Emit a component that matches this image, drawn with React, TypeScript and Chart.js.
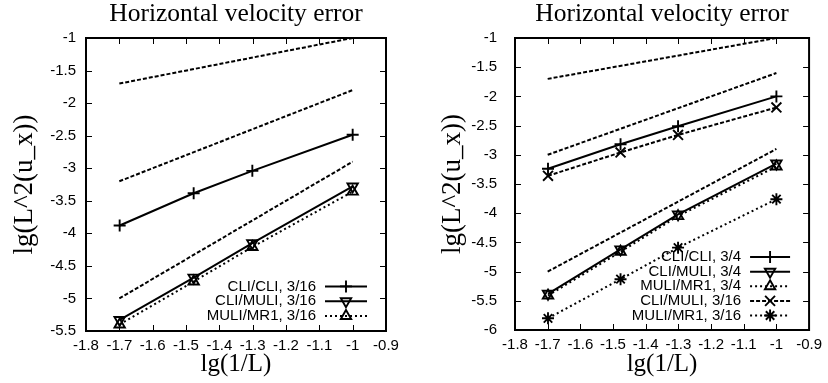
import React, { useEffect, useRef } from "react";
import { Chart, registerables } from "chart.js";
import { drawPoint } from "chart.js/helpers";

Chart.register(...registerables);

// ---------- text ----------
const TITLE = "Horizontal velocity error";
const X_TITLE = "lg(1/L)";
const Y_TITLE = "lg(L^2(u_x))";

// ---------- data ----------
const xData = [-1.699, -1.477, -1.301, -1.0];
const refX = [-1.7, -1.0];

// left panel
const leftRef1 = [-1.7, -1.0];
const leftRef2 = [-3.2, -1.8];
const leftRef3 = [-5.0, -2.9];
const leftCliCli316 = [-3.88, -3.385, -3.04, -2.485];
const leftCliMuli316 = [-5.33, -4.68, -4.15, -3.28];
const leftMuliMr1316 = [-5.4, -4.74, -4.21, -3.36];

// right panel
const rightRef1 = [-1.7, -1.0];
const rightRef2 = [-3.0, -1.6];
const rightRef3 = [-5.0, -2.9];
const rightCliCli34 = [-3.24, -2.82, -2.51, -2.0];
const rightCliMuli34 = [-5.38, -4.62, -4.02, -3.15];
const rightMuliMr134 = [-5.41, -4.66, -4.05, -3.2];
const rightCliMuli316 = [-3.36, -2.96, -2.66, -2.19];
const rightMuliMr1316 = [-5.8, -5.13, -4.59, -3.76];

// ticks
const xTicks = [-1.8, -1.7, -1.6, -1.5, -1.4, -1.3, -1.2, -1.1, -1.0, -0.9];
const leftYTicks = [-5.5, -5, -4.5, -4, -3.5, -3, -2.5, -2, -1.5, -1];
const rightYTicks = [-6, -5.5, -5, -4.5, -4, -3.5, -3, -2.5, -2, -1.5, -1];

// ---------- styling helpers ----------
const SERIF = '"Liberation Serif", "Times New Roman", serif';
const SANS = '"Liberation Sans", Arial, sans-serif';
const DASHED = [4, 2];
const DOTTED = [2, 3];
const SOLID: number[] = [];

function pts(xs: number[], ys: number[]) {
  return xs.map((x, i) => ({ x, y: ys[i] }));
}

function series(
  label: string,
  xs: number[],
  ys: number[],
  dash: number[],
  marker: any,
  radius = 6,
  rotation = 0
) {
  return {
    label,
    data: pts(xs, ys),
    showLine: true,
    borderColor: "#000",
    backgroundColor: "rgba(0,0,0,0)",
    borderWidth: 2,
    borderDash: dash,
    pointStyle: marker || "circle",
    pointRadius: marker ? radius : 0,
    pointHoverRadius: marker ? radius : 0,
    pointRotation: rotation,
    pointBorderColor: "#000",
    pointBackgroundColor: "rgba(0,0,0,0)",
    pointBorderWidth: 1.9,
    fill: false,
    tension: 0,
  };
}

function fmt(v: number) {
  return String(Number(v.toFixed(2)));
}

// ---------- plugins ----------
const framePlugin = {
  id: "gpFrame",
  beforeDatasetsDraw(chart: any) {
    const { ctx, chartArea: a, scales } = chart;
    ctx.save();
    ctx.strokeStyle = "#000";
    ctx.lineWidth = 1;
    const L = 6;
    ctx.beginPath();
    scales.x.ticks.forEach((t: any) => {
      const px = Math.round(scales.x.getPixelForValue(t.value)) + 0.5;
      ctx.moveTo(px, a.bottom);
      ctx.lineTo(px, a.bottom - L);
      ctx.moveTo(px, a.top);
      ctx.lineTo(px, a.top + L);
    });
    scales.y.ticks.forEach((t: any) => {
      const py = Math.round(scales.y.getPixelForValue(t.value)) + 0.5;
      ctx.moveTo(a.left, py);
      ctx.lineTo(a.left + L, py);
      ctx.moveTo(a.right, py);
      ctx.lineTo(a.right - L, py);
    });
    ctx.stroke();
    ctx.lineWidth = 2;
    ctx.strokeRect(a.left, a.top, a.right - a.left, a.bottom - a.top);
    ctx.restore();
  },
};

const titlePlugin = {
  id: "gpTitle",
  afterDraw(chart: any, _args: any, opts: any) {
    const { ctx, chartArea: a } = chart;
    ctx.save();
    ctx.font = `${opts.size}px ${SERIF}`;
    ctx.fillStyle = "#000";
    ctx.textAlign = "center";
    ctx.textBaseline = "alphabetic";
    ctx.fillText(opts.text, (a.left + a.right) / 2, opts.baseline);
    ctx.restore();
  },
};

const legendPlugin = {
  id: "gpLegend",
  afterDatasetsDraw(chart: any, _args: any, opts: any) {
    const { ctx, chartArea: a } = chart;
    const items = chart.data.datasets.filter((d: any) => d.label);
    const n = items.length;
    ctx.save();
    ctx.font = `${opts.fontSize}px ${SANS}`;
    ctx.textAlign = "right";
    ctx.textBaseline = "middle";
    items.forEach((d: any, i: number) => {
      const y = a.bottom - opts.bottomOffset - (n - 1 - i) * opts.rowStep;
      ctx.fillStyle = "#000";
      ctx.fillText(d.label, a.right - opts.textRight, y);
      const x1 = a.right - opts.sampleLeft;
      const x2 = a.right - opts.sampleRight;
      ctx.beginPath();
      ctx.setLineDash(d.borderDash || []);
      ctx.lineWidth = 2;
      ctx.strokeStyle = "#000";
      ctx.moveTo(x1, y);
      ctx.lineTo(x2, y);
      ctx.stroke();
      ctx.setLineDash([]);
      ctx.lineWidth = d.pointBorderWidth;
      ctx.fillStyle = "rgba(0,0,0,0)";
      drawPoint(
        ctx,
        {
          pointStyle: d.pointStyle,
          rotation: d.pointRotation,
          radius: d.pointRadius,
          borderWidth: d.pointBorderWidth,
        } as any,
        (x1 + x2) / 2,
        y
      );
    });
    ctx.restore();
  },
};

// ---------- panel ----------
type PanelProps = {
  datasets: any[];
  yTicks: number[];
  yAxisWidth: number;
  yTickPad: number;
  yTitlePad: number;
  xAxisHeight: number;
  rightPad: number;
  legend: any;
};

function Panel(p: PanelProps) {
  const ref = useRef<HTMLCanvasElement | null>(null);
  useEffect(() => {
    if (!ref.current) return;
    const chart = new Chart(ref.current, {
      type: "scatter",
      data: { datasets: p.datasets },
      options: {
        responsive: false,
        animation: false,
        events: [],
        layout: { padding: { top: 38, left: 0, right: p.rightPad, bottom: 0 } },
        scales: {
          x: {
            type: "linear",
            min: xTicks[0],
            max: xTicks[xTicks.length - 1],
            grid: { display: false, drawTicks: false },
            border: { display: false },
            afterBuildTicks: (s: any) => {
              s.ticks = xTicks.map((v) => ({ value: v }));
            },
            afterFit: (s: any) => {
              s.height = p.xAxisHeight;
            },
            ticks: {
              padding: 6,
              color: "#000",
              font: { family: SANS, size: 15 },
              callback: (v: any) => fmt(Number(v)),
            },
            title: {
              display: true,
              text: X_TITLE,
              color: "#000",
              font: { family: SERIF, size: 25 },
              padding: 4,
            },
          },
          y: {
            type: "linear",
            min: p.yTicks[0],
            max: p.yTicks[p.yTicks.length - 1],
            grid: { display: false, drawTicks: false },
            border: { display: false },
            afterBuildTicks: (s: any) => {
              s.ticks = p.yTicks.map((v) => ({ value: v }));
            },
            afterFit: (s: any) => {
              s.width = p.yAxisWidth;
            },
            ticks: {
              padding: p.yTickPad,
              color: "#000",
              font: { family: SANS, size: 15 },
              callback: (v: any) => fmt(Number(v)),
            },
            title: {
              display: true,
              text: Y_TITLE,
              color: "#000",
              font: { family: SERIF, size: 27 },
              padding: p.yTitlePad,
            },
          },
        },
        plugins: {
          legend: { display: false },
          tooltip: { enabled: false },
          gpTitle: { text: TITLE, size: 25.5, baseline: 21 },
          gpLegend: p.legend,
        } as any,
      },
      plugins: [framePlugin, titlePlugin, legendPlugin],
    } as any);
    return () => chart.destroy();
  }, []);
  return <canvas ref={ref} width={414} height={383} style={{ display: "block" }} />;
}

export default function App() {
  const leftSets = [
    series("", refX, leftRef1, DASHED, null),
    series("", refX, leftRef2, DASHED, null),
    series("", refX, leftRef3, DASHED, null),
    series("CLI/CLI, 3/16", xData, leftCliCli316, SOLID, "cross", 6),
    series("CLI/MULI, 3/16", xData, leftCliMuli316, SOLID, "triangle", 6, 180),
    series("MULI/MR1, 3/16", xData, leftMuliMr1316, DOTTED, "triangle", 6),
  ];
  const rightSets = [
    series("", refX, rightRef1, DASHED, null),
    series("", refX, rightRef2, DASHED, null),
    series("", refX, rightRef3, DASHED, null),
    series("CLI/CLI, 3/4", xData, rightCliCli34, SOLID, "cross", 6),
    series("CLI/MULI, 3/4", xData, rightCliMuli34, SOLID, "triangle", 6, 180),
    series("MULI/MR1, 3/4", xData, rightMuliMr134, DOTTED, "triangle", 6),
    series("CLI/MULI, 3/16", xData, rightCliMuli316, DASHED, "crossRot", 7),
    series("MULI/MR1, 3/16", xData, rightMuliMr1316, DOTTED, "star", 6),
  ];
  return (
    <div style={{ position: "absolute", left: 0, top: 0, width: 828, height: 383, display: "flex", background: "#fff" }}>
      <Panel
        datasets={leftSets}
        yTicks={leftYTicks}
        yAxisWidth={86}
        yTickPad={10}
        yTitlePad={8.8}
        xAxisHeight={52}
        rightPad={28}
        legend={{ fontSize: 15, rowStep: 14.8, bottomOffset: 15, textRight: 70, sampleLeft: 61, sampleRight: 19 }}
      />
      <Panel
        datasets={rightSets}
        yTicks={rightYTicks}
        yAxisWidth={101}
        yTickPad={18}
        yTitlePad={22.8}
        xAxisHeight={53}
        rightPad={13}
        legend={{ fontSize: 15, rowStep: 14.6, bottomOffset: 14.5, textRight: 68, sampleLeft: 59, sampleRight: 19 }}
      />
    </div>
  );
}
